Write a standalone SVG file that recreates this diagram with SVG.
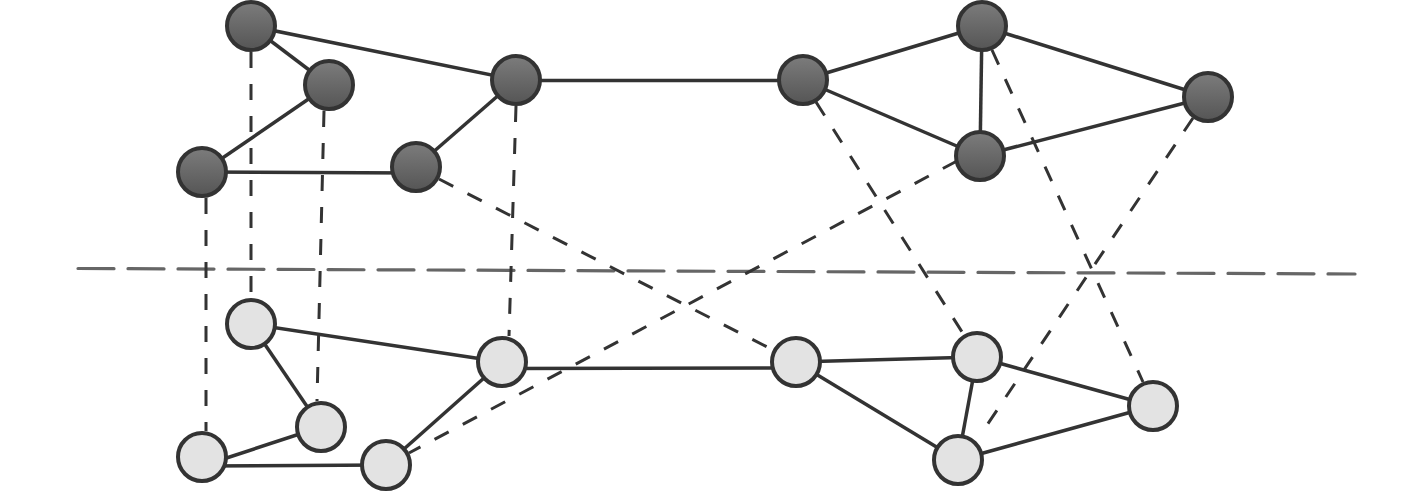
<svg xmlns="http://www.w3.org/2000/svg" width="1417" height="492" viewBox="0 0 1417 492">
<defs>
<linearGradient id="dg" x1="0" y1="0" x2="0" y2="1">
<stop offset="0" stop-color="#7c7c7c"/>
<stop offset="1" stop-color="#555555"/>
</linearGradient>
<style>
.n circle{stroke:#333;stroke-width:4}
.dark circle{fill:url(#dg)}
.light circle{fill:#e3e3e3}
.s{stroke:#333;stroke-width:3.5;fill:none}
.d{stroke:#333;stroke-width:3;fill:none;stroke-dasharray:16 16}
.axis{stroke:#666;stroke-width:3.2;stroke-dasharray:36 14;stroke-linecap:round;fill:none}
</style>
</defs>
<rect width="1417" height="492" fill="#fff"/>
<g id="connectors">
<line class="axis" x1="78" y1="268.5" x2="1355" y2="274"/>
<line class="s" x1="251" y1="26" x2="329" y2="85"/>
<line class="s" x1="251" y1="26" x2="516" y2="80"/>
<line class="s" x1="329" y1="85" x2="202" y2="172"/>
<line class="s" x1="202" y1="172" x2="416" y2="173"/>
<line class="s" x1="416" y1="167" x2="516" y2="80"/>
<line class="s" x1="516" y1="80.5" x2="803" y2="80.5"/>
<line class="s" x1="803" y1="80" x2="982" y2="26"/>
<line class="s" x1="803" y1="80" x2="980" y2="156"/>
<line class="s" x1="982" y1="26" x2="980" y2="156"/>
<line class="s" x1="982" y1="26" x2="1208" y2="97"/>
<line class="s" x1="980" y1="156" x2="1208" y2="97"/>
<line class="s" x1="251" y1="324" x2="502" y2="362"/>
<line class="s" x1="251" y1="324" x2="321" y2="427"/>
<line class="s" x1="321" y1="427" x2="202" y2="466"/>
<line class="s" x1="202" y1="466" x2="386" y2="465"/>
<line class="s" x1="386" y1="465" x2="502" y2="362"/>
<line class="s" x1="502" y1="368.5" x2="796" y2="368"/>
<line class="s" x1="796" y1="362" x2="977" y2="357"/>
<line class="s" x1="796" y1="362" x2="958" y2="460"/>
<line class="s" x1="977" y1="357" x2="958" y2="460"/>
<line class="s" x1="977" y1="357" x2="1153" y2="406"/>
<line class="s" x1="958" y1="460" x2="1153" y2="406"/>
<line class="d" x1="251" y1="52" x2="251" y2="298"/>
<line class="d" x1="324" y1="111" x2="317" y2="401"/>
<line class="d" x1="206" y1="198" x2="206" y2="431"/>
<line class="d" x1="516" y1="106" x2="509" y2="336"/>
<line class="d" x1="439" y1="179" x2="773" y2="350"/>
<line class="d" x1="957" y1="161" x2="409" y2="453"/>
<line class="d" x1="816" y1="102" x2="964" y2="335"/>
<line class="d" x1="992" y1="50" x2="1143" y2="382"/>
<line class="d" x1="1193" y1="118" x2="981" y2="434"/>
</g>
<g class="n dark" id="n1"><circle cx="251" cy="26" r="24"/></g>
<g class="n dark" id="n2"><circle cx="329" cy="85" r="24"/></g>
<g class="n dark" id="n3"><circle cx="202" cy="172" r="24"/></g>
<g class="n dark" id="n4"><circle cx="416" cy="167" r="24"/></g>
<g class="n dark" id="n5"><circle cx="516" cy="80" r="24"/></g>
<g class="n dark" id="n6"><circle cx="803" cy="80" r="24"/></g>
<g class="n dark" id="n7"><circle cx="982" cy="26" r="24"/></g>
<g class="n dark" id="n8"><circle cx="980" cy="156" r="24"/></g>
<g class="n dark" id="n9"><circle cx="1208" cy="97" r="24"/></g>
<g class="n light" id="m1"><circle cx="251" cy="324" r="24"/></g>
<g class="n light" id="m2"><circle cx="321" cy="427" r="24"/></g>
<g class="n light" id="m3"><circle cx="202" cy="457" r="24"/></g>
<g class="n light" id="m4"><circle cx="386" cy="465" r="24"/></g>
<g class="n light" id="m5"><circle cx="502" cy="362" r="24"/></g>
<g class="n light" id="m6"><circle cx="796" cy="362" r="24"/></g>
<g class="n light" id="m7"><circle cx="977" cy="357" r="24"/></g>
<g class="n light" id="m8"><circle cx="958" cy="460" r="24"/></g>
<g class="n light" id="m9"><circle cx="1153" cy="406" r="24"/></g>
</svg>
